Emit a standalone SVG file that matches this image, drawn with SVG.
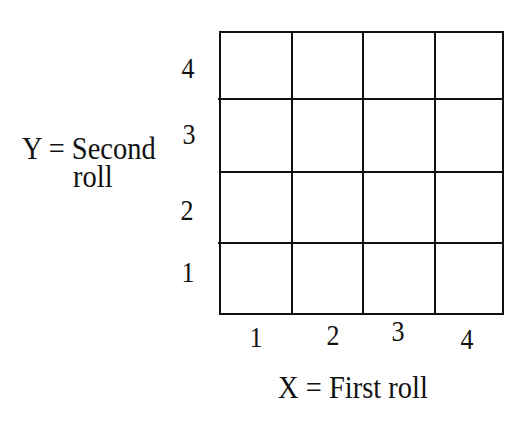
<svg xmlns="http://www.w3.org/2000/svg" width="530" height="423" viewBox="0 0 530 423">
<style>
.g{stroke:#111;stroke-width:2;fill:none}
.t{font-family:"Liberation Serif","Times New Roman",serif;fill:#111}
.lab{font-size:28.5px}
.num{font-size:26px;text-anchor:middle}
</style>
<rect width="530" height="423" fill="#fff"/>
<g id="grid" class="g">
<rect x="220" y="32" width="283" height="282"/>
<line x1="292" y1="32" x2="292" y2="314"/>
<line x1="363" y1="32" x2="363" y2="314"/>
<line x1="435" y1="32" x2="435" y2="314"/>
<line x1="218" y1="99" x2="503" y2="99"/>
<line x1="220" y1="172" x2="503" y2="172"/>
<line x1="218" y1="243" x2="503" y2="243"/>
</g>
<g id="yaxis" class="t">
<text class="num" transform="translate(188,78) scale(1,1.1)">4</text>
<text class="num" transform="translate(189,144) scale(1,1.1)">3</text>
<text class="num" transform="translate(187,220) scale(1,1.1)">2</text>
<text class="num" transform="translate(188,282) scale(1,1.1)">1</text>
</g>
<g id="xaxis" class="t">
<text class="num" transform="translate(256,347) scale(1,1.1)">1</text>
<text class="num" transform="translate(333,345) scale(1,1.1)">2</text>
<text class="num" transform="translate(398,341) scale(1,1.1)">3</text>
<text class="num" transform="translate(467,349) scale(1,1.1)">4</text>
</g>
<g id="ylabel" class="t lab">
<text transform="translate(22,159) scale(1,1.12)">Y = Second</text>
<text transform="translate(73,187) scale(1,1.12)">roll</text>
</g>
<g id="xlabel" class="t lab">
<text transform="translate(278,398) scale(1,1.12)">X = First roll</text>
</g>
</svg>
